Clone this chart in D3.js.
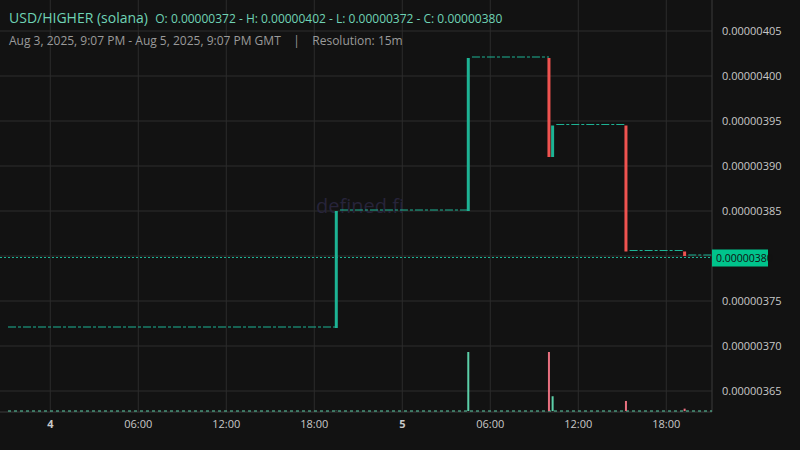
<!DOCTYPE html>
<html><head><meta charset="utf-8">
<script src="https://cdn.jsdelivr.net/npm/d3@7"></script>
<style>body{margin:0;background:#131313}svg{display:block;font-family:"Open Sans",sans-serif}text{white-space:pre}</style>
</head><body><svg id="c" width="800" height="450"></svg>
<script>
// key candles (15m), everything between them is flat
var candleTimes = ["2025-08-04T19:30Z","2025-08-05T04:30Z","2025-08-05T10:00Z","2025-08-05T10:15Z","2025-08-05T15:15Z","2025-08-05T19:15Z"];
var opens  = [3.72, 3.85, 4.02, 3.91, 3.945, 3.805];
var closes = [3.85, 4.02, 3.91, 3.945, 3.805, 3.80];
var volumes = [0.5, 100, 100, 25, 17, 4];
var startTime = "2025-08-03T21:07Z", endTime = "2025-08-05T21:07Z";
var startPrice = 3.72, lastPrice = 3.80;
var priceTicks = [3.65, 3.70, 3.75, 3.80, 3.85, 3.90, 3.95, 4.00, 4.05];

var green = "#1db394", red = "#ef5350";
var svg = d3.select("#c");
svg.append("rect").attr("width",800).attr("height",450).attr("fill","#121212");

var W = 712, bottom = 412;
var x = d3.scaleUtc().domain([new Date(startTime), new Date(endTime)]).range([8, W]);
var y = d3.scaleLinear().domain([3.65, 4.05]).range([391, 31]);
var yv = d3.scaleLinear().domain([0, 100]).range([411, 352]);

var fmt = d => (d/1e6).toFixed(8);
// grid
svg.append("g").selectAll("line").data(priceTicks).join("line")
  .attr("x1",0).attr("x2",W).attr("y1",d=>y(d)).attr("y2",d=>y(d)).attr("stroke","#2c2c2c");
var tTicks = x.ticks(d3.utcHour.every(6));
svg.append("g").selectAll("line").data(tTicks).join("line")
  .attr("x1",d=>x(d)).attr("x2",d=>x(d)).attr("y1",0).attr("y2",bottom).attr("stroke","#2c2c2c");
svg.append("line").attr("x1",W).attr("x2",W).attr("y1",0).attr("y2",bottom).attr("stroke","#3a3a3a");
svg.append("line").attr("x1",0).attr("x2",W).attr("y1",bottom).attr("y2",bottom).attr("stroke","#3a3a3a");

// axes labels (last price label replaces its tick)
svg.append("g").selectAll("text").data(priceTicks.filter(d=>d!=lastPrice)).join("text")
  .attr("x",722).attr("y",d=>y(d)+4).attr("fill","#c8c8c8").attr("font-size",11).text(fmt);
svg.append("g").selectAll("text").data(tTicks).join("text")
  .attr("x",d=>x(d)).attr("y",428).attr("text-anchor","middle").attr("font-size",11)
  .attr("fill","#c8c8c8").attr("font-weight",d=>d.getUTCHours()==0?"bold":"normal")
  .text(d=>d.getUTCHours()==0?d.getUTCDate():d3.utcFormat("%H:%M")(d));

// watermark
svg.append("text").attr("x",360).attr("y",213).attr("text-anchor","middle").attr("font-size",20)
  .attr("fill","#27243a").text("defined.fi");

// flat stretches
var times = candleTimes.map(t=>new Date(t));
var flats = [{a:new Date(startTime), b:times[0], p:startPrice}];
times.forEach((t,i)=>flats.push({a:new Date(+t+9e5), b:i<times.length-1?times[i+1]:new Date(endTime), p:closes[i]}));
svg.append("g").selectAll("line").data(flats).join("line")
  .attr("x1",d=>x(d.a)).attr("x2",d=>x(d.b)).attr("y1",d=>y(d.p)-1).attr("y2",d=>y(d.p)-1)
  .attr("stroke",green).attr("stroke-dasharray","8,2,3,2");
// volume baseline
svg.append("line").attr("x1",8).attr("x2",W).attr("y1",411).attr("y2",411)
  .attr("stroke","#5ccfa8").attr("stroke-dasharray","3,3");

// last price line
svg.append("line").attr("x1",0).attr("x2",W).attr("y1",y(lastPrice)+1.5).attr("y2",y(lastPrice)+1.5)
  .attr("stroke",green).attr("stroke-dasharray","2,2");

// candles
svg.append("g").selectAll("rect").data(times).join("rect")
  .attr("x",d=>x(d)-1.5).attr("width",3)
  .attr("y",(d,i)=>y(Math.max(opens[i],closes[i])))
  .attr("height",(d,i)=>Math.max(2,Math.abs(y(opens[i])-y(closes[i]))))
  .attr("fill",(d,i)=>closes[i]>=opens[i]?green:red);
// volume bars
svg.append("g").selectAll("rect").data(times).join("rect")
  .attr("x",d=>x(d)-1).attr("width",2)
  .attr("y",(d,i)=>yv(volumes[i])).attr("height",(d,i)=>411-yv(volumes[i]))
  .attr("fill",(d,i)=>closes[i]>=opens[i]?"#5ccfa8":"#e8707f");

// price label
svg.append("rect").attr("x",W).attr("y",y(lastPrice)-6.5).attr("width",56).attr("height",17).attr("fill","#00c48c");
svg.append("text").attr("x",W+4).attr("y",y(lastPrice)+6).attr("font-size",10.5).attr("fill","#111").text(fmt(lastPrice));

// header
var h = svg.append("text").attr("x",9).attr("y",23).attr("fill","#6fd3b5");
h.append("tspan").attr("font-size",14).text("USD/HIGHER (solana)  ");
h.append("tspan").attr("font-size",12).text("O: "+fmt(opens[0])+" - H: "+fmt(opens[2])+" - L: "+fmt(opens[0])+" - C: "+fmt(lastPrice));
svg.append("text").attr("x",9).attr("y",45).attr("fill","#9a9a9a").attr("font-size",12)
  .text("Aug 3, 2025, 9:07 PM - Aug 5, 2025, 9:07 PM GMT    |    Resolution: 15m");
</script></body></html>
